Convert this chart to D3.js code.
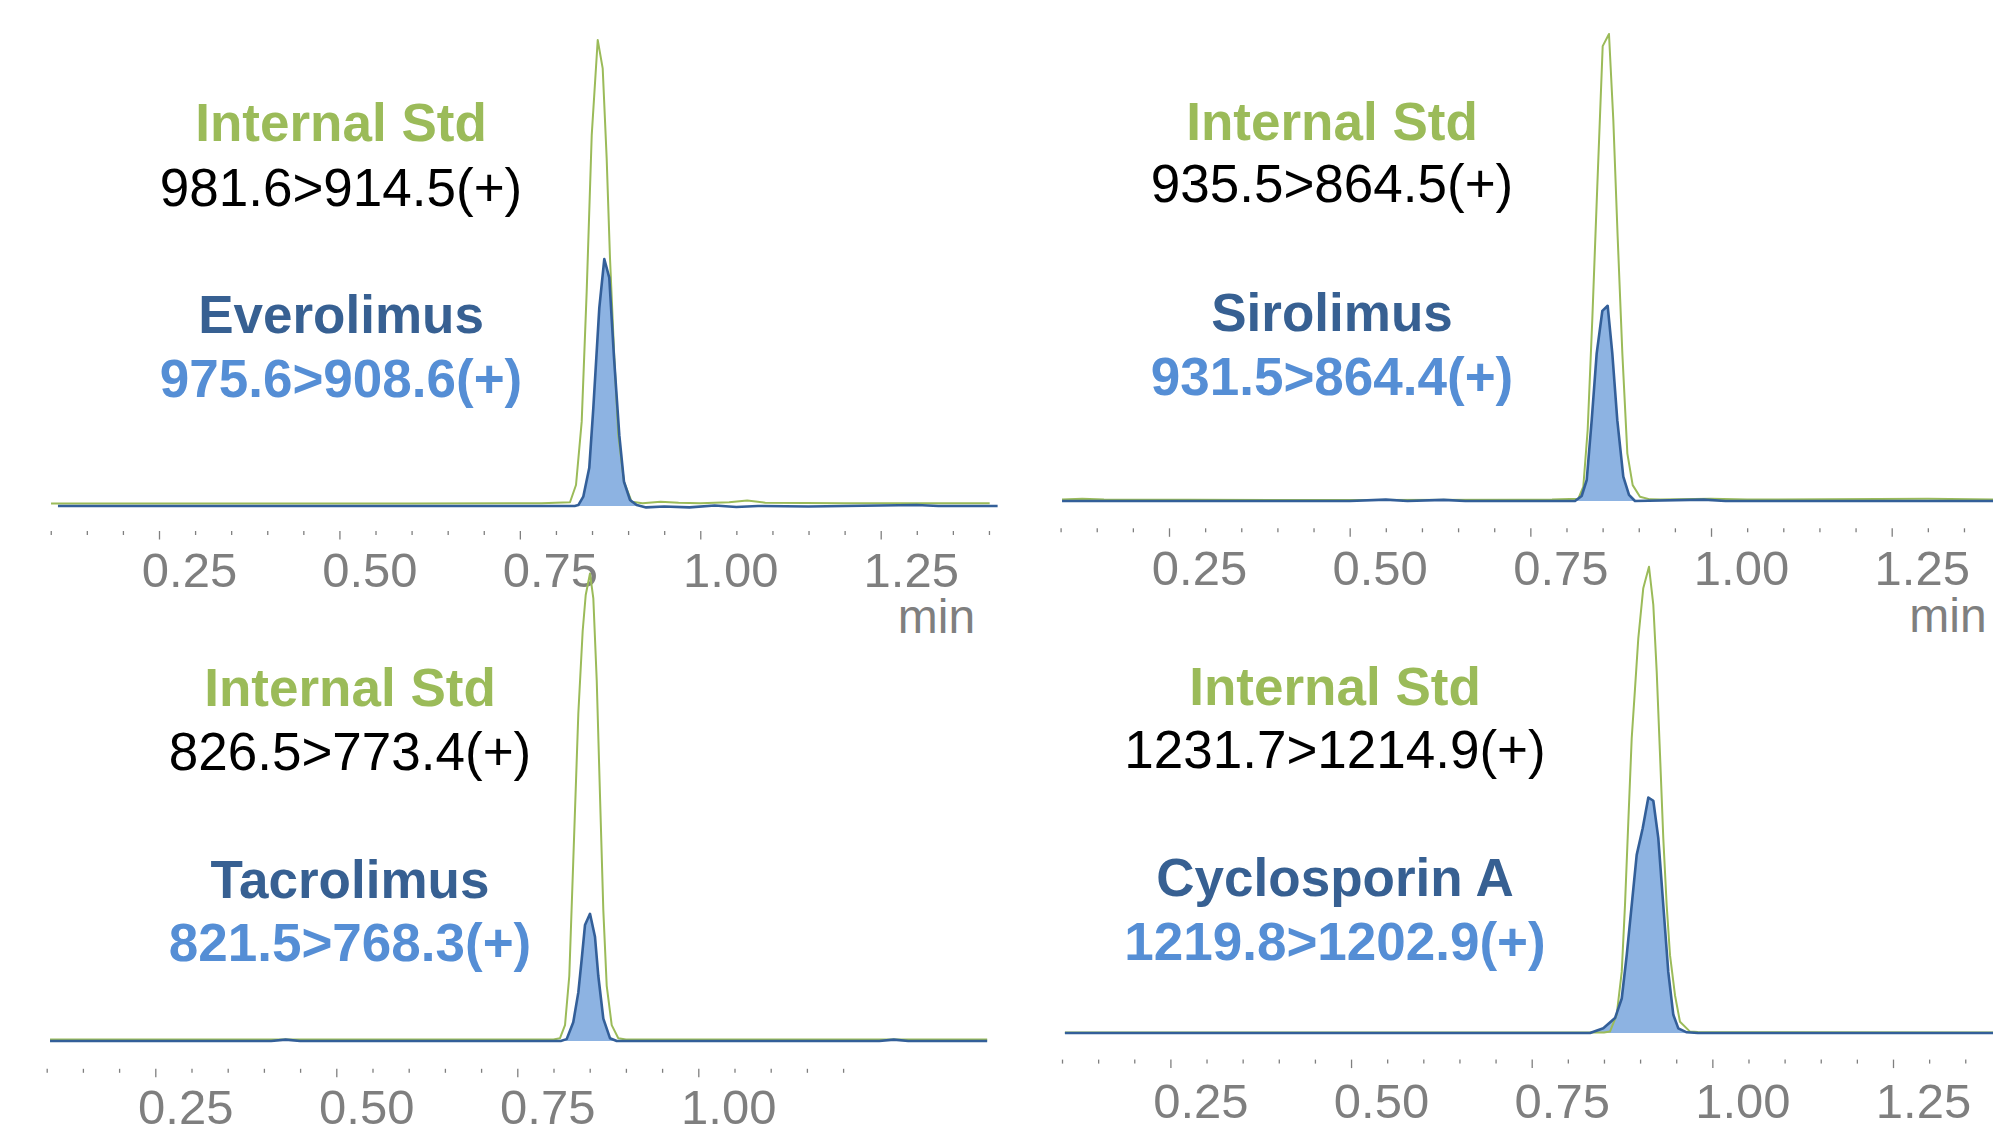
<!DOCTYPE html>
<html><head><meta charset="utf-8">
<script src="https://cdn.jsdelivr.net/npm/d3@7"></script>
<style>
body{margin:0;background:#fff}
svg{display:block}
text{font-family:"Liberation Sans",Arial,sans-serif}
</style>
</head><body>
<svg id="chart" width="1993" height="1134"></svg>
<script>
// ---------- DATA ----------
const compounds = ["Everolimus", "Sirolimus", "Tacrolimus", "Cyclosporin A"];
const isName = "Internal Std";
const isTransitions = ["981.6>914.5(+)", "935.5>864.5(+)", "826.5>773.4(+)", "1231.7>1214.9(+)"];
const analyteTransitions = ["975.6>908.6(+)", "931.5>864.4(+)", "821.5>768.3(+)", "1219.8>1202.9(+)"];
const unitLabel = "min";
const majorTicks = [
  [0.25, 0.50, 0.75, 1.00, 1.25],
  [0.25, 0.50, 0.75, 1.00, 1.25],
  [0.25, 0.50, 0.75, 1.00],
  [0.25, 0.50, 0.75, 1.00, 1.25]
];
const tickStart = [0.10, 0.10, 0.10, 0.10];
const tickEnd = [1.40, 1.35, 1.20, 1.35];

// retention time (min), relative intensity (% of IS peak)
const isEverolimus = [[0.1004,0.55],[0.30,0.55],[0.60,0.55],[0.78,0.6],[0.8195,0.8],[0.8278,4.5],[0.8357,18.1],[0.8426,46.0],[0.8496,79.6],[0.8579,100],[0.8648,93.9],[0.8703,74.6],[0.8749,53.2],[0.8809,31.8],[0.8864,15.2],[0.8943,5.2],[0.9050,0.9],[0.92,0.6],[0.945,0.9],[0.97,0.7],[1.00,0.6],[1.04,0.8],[1.065,1.2],[1.09,0.7],[1.20,0.6],[1.30,0.6],[1.401,0.6]];
const everolimus = [[0.110,0],[0.50,0],[0.826,0],[0.831,0.2],[0.8379,2.0],[0.8462,8.2],[0.8518,21.0],[0.8601,42.5],[0.8670,53.0],[0.8739,49.0],[0.8805,31.8],[0.8878,15.2],[0.8943,5.2],[0.9026,1.3],[0.9119,0.2],[0.925,-0.3],[0.95,-0.1],[0.985,-0.3],[1.02,0.1],[1.05,-0.2],[1.08,0],[1.15,-0.1],[1.30,0.2],[1.33,0],[1.412,0]];

const isSirolimus = [[0.102,0.3],[0.13,0.5],[0.16,0.3],[0.50,0.2],[0.78,0.3],[0.8164,0.5],[0.8233,3.1],[0.8293,15.2],[0.8357,38.8],[0.8426,67.3],[0.8501,97.4],[0.8588,100],[0.8648,81.6],[0.8708,56.6],[0.8773,31.6],[0.8842,10.2],[0.8916,3.4],[0.9017,0.9],[0.9156,0.35],[0.93,0.3],[1.00,0.5],[1.05,0.3],[1.30,0.5],[1.40,0.3]];
const sirolimus = [[0.102,0],[0.50,0],[0.55,0.3],[0.58,0],[0.63,0.25],[0.66,0],[0.8118,0],[0.8210,1.07],[0.8280,4.5],[0.8349,17.3],[0.8418,31.6],[0.8496,40.7],[0.8570,41.8],[0.8634,31.6],[0.8703,17.3],[0.8786,5.2],[0.8865,1.3],[0.8948,0],[0.99,0.3],[1.02,0],[1.40,0]];

const isTacrolimus = [[0.1046,0.3],[0.80,0.3],[0.809,0.6],[0.8159,3.4],[0.8218,13.9],[0.8273,38.5],[0.8343,70.1],[0.8403,87.7],[0.8445,95.4],[0.8504,100],[0.8550,94.7],[0.8597,77.2],[0.8642,52.6],[0.8688,28.0],[0.8735,11.8],[0.8804,3.4],[0.8895,0.6],[0.90,0.3],[1.399,0.3]];
const tacrolimus = [[0.1046,0],[0.41,0],[0.43,0.3],[0.45,0],[0.81,0],[0.8182,0.4],[0.8273,4.0],[0.8343,10.4],[0.8389,17.4],[0.8435,24.8],[0.8504,27.2],[0.8573,22.3],[0.8619,13.9],[0.8688,4.8],[0.8780,0.6],[0.8873,0],[1.25,0],[1.27,0.3],[1.29,0],[1.399,0]];

const isCyclosporin = [[0.104,0.1],[0.85,0.1],[0.8583,0.3],[0.8676,3.9],[0.8746,13.1],[0.8791,27.4],[0.8837,45.3],[0.8884,63.2],[0.8930,73.9],[0.8975,84.6],[0.9044,95.4],[0.9123,100],[0.9183,91.8],[0.9230,77.5],[0.9276,59.6],[0.9321,41.8],[0.9368,27.4],[0.9414,16.7],[0.9483,8.1],[0.9552,2.4],[0.9691,0.3],[0.98,0.2],[1.40,0.1]];
const cyclosporin = [[0.104,0],[0.80,0],[0.8307,0],[0.8491,1.0],[0.8653,3.2],[0.8746,7.4],[0.8815,16.7],[0.8884,27.4],[0.8953,38.2],[0.9036,43.9],[0.9114,50.5],[0.9183,49.8],[0.9252,41.8],[0.9321,27.4],[0.9390,13.1],[0.9460,3.9],[0.9529,1.0],[0.9645,0.15],[0.98,0],[1.40,0]];

const isSeries = [isEverolimus, isSirolimus, isTacrolimus, isCyclosporin];
const analyteSeries = [everolimus, sirolimus, tacrolimus, cyclosporin];

// ---------- LAYOUT ----------
const layout = [
  {x25:159,   x125:880.7, base:506,  top:40,    tickY:531,    labelY:587,  tx:341,  ty:[141,205.5,333,397], unit:{x:936.5,y:633}},
  {x25:1169,  x125:1891.7,base:501,  top:34,    tickY:528.3,  labelY:585,  tx:1332, ty:[139.5,202,331,395], unit:{x:1948,y:632}},
  {x25:155.3, x125:879.3, base:1041, top:573.5, tickY:1068.8, labelY:1124, tx:350,  ty:[706,769.5,897.5,961], unit:null},
  {x25:1170.4,x125:1893,  base:1033, top:566.7, tickY:1059.6, labelY:1118, tx:1335, ty:[704.6,768,896,960], unit:null}
];
const colors = {is:"#9bbb59", name:"#376092", trans:"#558ed5", line:"#335f99", fill:"#8db3e2", axis:"#7f7f7f", text:"#000"};

const svg = d3.select("#chart");
const gAxes = svg.append("g");
const gLines = svg.append("g");

layout.forEach((L, i) => {
  const x = d3.scaleLinear().domain([0.25, 1.25]).range([L.x25, L.x125]);
  const y = d3.scaleLinear().domain([0, 100]).range([L.base, L.top]);

  // minor ticks
  const minors = d3.range(Math.round(tickStart[i]*100), Math.round(tickEnd[i]*100)+1, 5).map(v => v/100)
    .filter(v => !majorTicks[i].some(m => Math.abs(m - v) < 1e-6));
  const gMinor = gAxes.append("g").attr("transform", `translate(0,${L.tickY})`)
    .call(d3.axisBottom(x).tickValues(minors).tickSize(4).tickFormat(""));
  gMinor.select(".domain").remove();
  gMinor.selectAll("line").attr("stroke", colors.axis).attr("stroke-width", 1.3);

  const gMajor = gAxes.append("g").attr("transform", `translate(0,${L.tickY})`)
    .call(d3.axisBottom(x).tickValues(majorTicks[i]).tickSize(8.5).tickFormat(d3.format(".2f")));
  gMajor.select(".domain").remove();
  gMajor.selectAll("line").attr("stroke", colors.axis).attr("stroke-width", 1.3);
  gMajor.selectAll("text")
    .attr("x", 30).attr("y", L.labelY - L.tickY).attr("dy", null)
    .attr("fill", colors.axis).attr("font-size", 49)
    .attr("font-family", "Liberation Sans, Arial, sans-serif");

  if (L.unit) {
    gAxes.append("text").attr("x", L.unit.x).attr("y", L.unit.y)
      .attr("text-anchor", "middle").attr("font-size", 48).attr("fill", colors.axis).text(unitLabel);
  }

  const lines = [
    {t:isName, c:colors.is, w:"bold"},
    {t:isTransitions[i], c:colors.text, w:"normal"},
    {t:compounds[i], c:colors.name, w:"bold"},
    {t:analyteTransitions[i], c:colors.trans, w:"bold"}
  ];
  lines.forEach((d, k) => {
    gAxes.append("text").attr("x", L.tx).attr("y", L.ty[k]).attr("text-anchor", "middle")
      .attr("font-size", 53).attr("font-weight", d.w).attr("fill", d.c).text(d.t);
  });

  const line = d3.line().x(d => x(d[0])).y(d => y(d[1]));
  const area = d3.area().x(d => x(d[0])).y0(y(0)).y1(d => y(d[1]));

  const g = gLines.append("g");
  g.append("path").datum(analyteSeries[i]).attr("d", area).attr("fill", colors.fill);
  g.append("path").datum(isSeries[i]).attr("d", line).attr("fill", "none")
    .attr("stroke", colors.is).attr("stroke-width", 2).attr("stroke-linejoin", "round");
  g.append("path").datum(analyteSeries[i]).attr("d", line).attr("fill", "none")
    .attr("stroke", colors.line).attr("stroke-width", 2.6).attr("stroke-linejoin", "round");
});
</script>
</body></html>
